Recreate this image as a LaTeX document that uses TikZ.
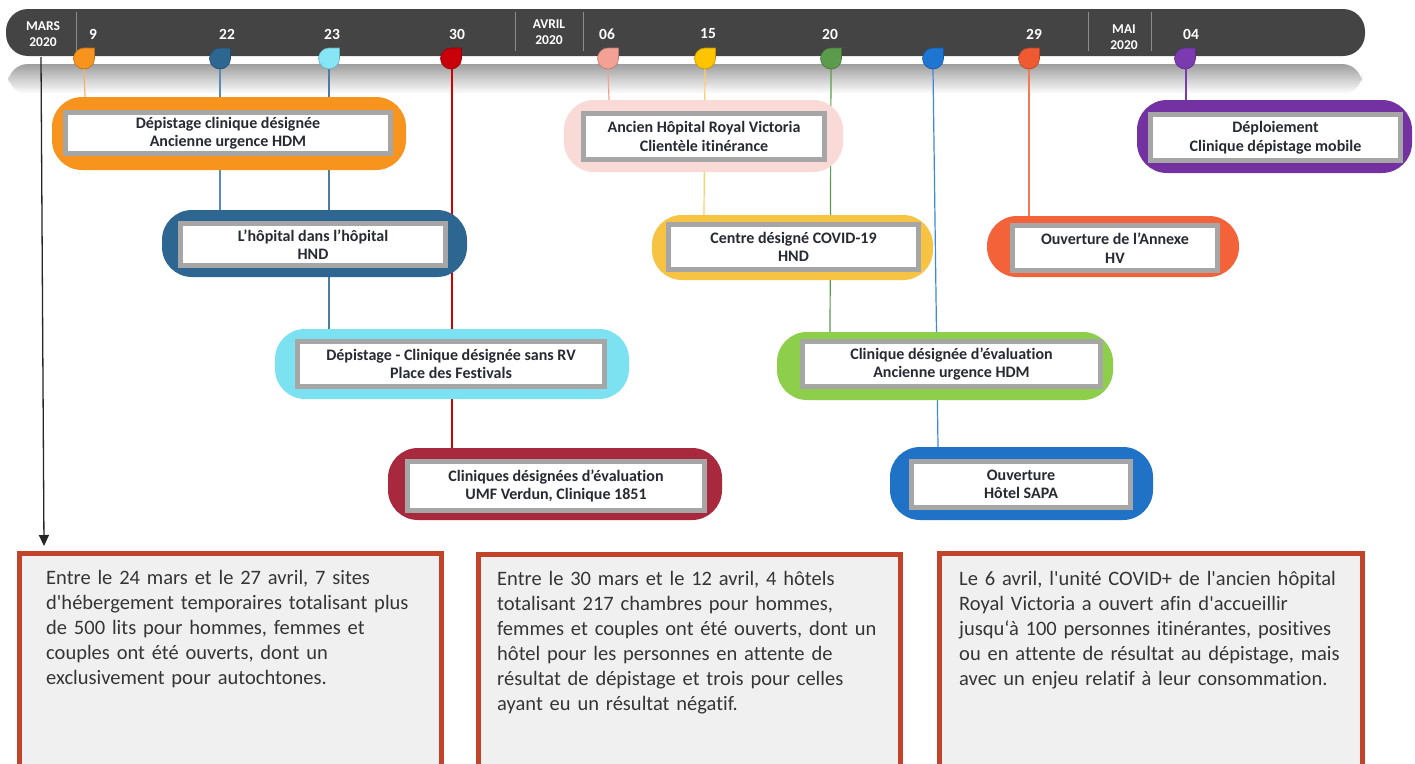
\documentclass[tikz,border=0pt]{standalone}
\usepackage{fontspec}
\setmainfont{Carlito}[Ligatures={TeXOff,CommonOff}]
\usetikzlibrary{arrows.meta}
\pgfdeclarelayer{back}
\pgfsetlayers{back,main}
\definecolor{barc}{HTML}{444444}
\definecolor{sepc}{HTML}{8C8C8C}
\definecolor{boxgrey}{HTML}{A6A6A6}
\definecolor{labeltext}{HTML}{262A33}
\definecolor{notetext}{HTML}{353535}
\definecolor{noteborder}{HTML}{C0432A}
\definecolor{notefill}{HTML}{F0F0F0}
\definecolor{cOrange}{HTML}{F7941E}
\definecolor{cOrangeS}{HTML}{F5B26B}
\definecolor{cDBlue}{HTML}{2D6690}
\definecolor{cDBlueS}{HTML}{5A8DB5}
\definecolor{cCyan}{HTML}{7CE2F2}
\definecolor{cCyanM}{HTML}{86E6F5}
\definecolor{cCyanS}{HTML}{4A7CA4}
\definecolor{cRed}{HTML}{A8293E}
\definecolor{cRedM}{HTML}{C8000A}
\definecolor{cRedS}{HTML}{D40000}
\definecolor{cPink}{HTML}{F9DAD6}
\definecolor{cPinkM}{HTML}{F4A195}
\definecolor{cYellow}{HTML}{F6C343}
\definecolor{cYellowM}{HTML}{FFC400}
\definecolor{cYellowS}{HTML}{FFCC66}
\definecolor{cGreen}{HTML}{8DCF4A}
\definecolor{cGreenM}{HTML}{5C9A4C}
\definecolor{cBlue}{HTML}{1F72C6}
\definecolor{cBlueM}{HTML}{1E76D2}
\definecolor{cBlueS}{HTML}{3A8AD8}
\definecolor{cOR}{HTML}{F4623A}
\definecolor{cORM}{HTML}{F05A32}
\definecolor{cORS}{HTML}{F47A52}
\definecolor{cPurple}{HTML}{7331A2}
\definecolor{cPurpleM}{HTML}{7B3AB0}
\newcommand\dropmark[3]{%
  \coordinate (#1) at (#2,69);
  \fill[#3, draw=#3!75!black, line width=0.6pt] (#2,48) arc[start angle=90,end angle=360,radius=10.5pt] -- (#2+10.5,48) -- cycle;
}
\begin{document}
\begin{tikzpicture}[x=1pt,y=-1pt,
  pill/.style={rounded corners=30pt, draw=none},
  inbox/.style={draw=boxgrey, line width=5pt, fill=white, align=center, inner sep=0pt,
    font=\bfseries\fontsize{16}{18.5}\selectfont, text=labeltext},
  day/.style={text=white, font=\bfseries\fontsize{15.5}{16}\selectfont, inner sep=0pt},
  month/.style={text=white, font=\bfseries\fontsize{13.5}{16}\selectfont, align=center, inner sep=0pt},
  stem/.style={line width=1.2pt},
  notebox/.style={draw=noteborder, fill=notefill, line width=5pt, inner sep=0pt},
  note/.style={anchor=base west, inner sep=0pt, text width=410pt, align=left,
    font=\fontsize{20.5}{25}\selectfont, text=notetext}
]
\useasboundingbox (0,0) rectangle (1415,763);
\begin{pgfonlayer}{back}
  \fill[white] (0,0) rectangle (1415,763);
  \shade[top color=black!38, bottom color=white, rounded corners=20pt] (8,94) -- (8,64) -- (1362,64) -- (1362,94) -- cycle;
\end{pgfonlayer}
% timeline bar
\fill[barc, rounded corners=22pt] (6,9) rectangle (1365,56);
\foreach \sx in {76,515,583,1088,1151} \draw[sepc, line width=0.8pt] (\sx,12) -- (\sx,51);
\node[month] (mMars) at (43,34) {MARS\\2020};
\node[month] (mAvril) at (549,32) {AVRIL\\2020};
\node[month] (mMai) at (1124,37) {MAI\\2020};
\node[day] (d9) at (93,34) {9};
\node[day] (d22) at (227,34) {22};
\node[day] (d23) at (332,34) {23};
\node[day] (d30) at (457,34) {30};
\node[day] (d06) at (607,34) {06};
\node[day] (d15) at (708,34) {15};
\node[day] (d20) at (830,34) {20};
\node[day] (d29) at (1034,34) {29};
\node[day] (d04) at (1191,34) {04};
% markers
\dropmark{m9}{84}{cOrange}
\dropmark{m22}{220}{cDBlue}
\dropmark{m23}{329}{cCyanM}
\dropmark{m30}{451}{cRedM}
\dropmark{m06}{608}{cPinkM}
\dropmark{m15}{705}{cYellowM}
\dropmark{m20}{831}{cGreenM}
\dropmark{mB}{933}{cBlueM}
\dropmark{m29}{1029}{cORM}
\dropmark{m04}{1185}{cPurpleM}
% arrow
\coordinate (aS) at (41,57);
\coordinate (aE) at (44,546);
\draw[black!85, line width=1.3pt, -{Triangle[length=11pt,width=10pt]}] (aS) -- (aE);
% event boxes
\node[pill, fill=cOrange, minimum width=354pt, minimum height=73pt] (p1) at (229,133.5) {};
\node[inbox, minimum width=325pt, minimum height=41pt] (b1) at (228,133) {Dépistage clinique désignée\\Ancienne urgence HDM};
\node[pill, fill=cDBlue, minimum width=305pt, minimum height=67pt] (p2) at (314.5,243.5) {};
\node[inbox, minimum width=265pt, minimum height=42pt] (b2) at (313,244.5) {L’hôpital dans l’hôpital\\HND};
\node[pill, fill=cCyan, minimum width=354pt, minimum height=70pt] (p3) at (452,364) {};
\node[inbox, minimum width=307pt, minimum height=45pt] (b3) at (451,364) {Dépistage - Clinique désignée sans RV\\Place des Festivals};
\node[pill, fill=cRed, minimum width=334pt, minimum height=72pt] (p4) at (555,484) {};
\node[inbox, minimum width=297pt, minimum height=49pt] (b4) at (556,486) {Cliniques désignées d’évaluation\\UMF Verdun, Clinique 1851};
\node[pill, fill=cPink, minimum width=279pt, minimum height=72pt] (p5) at (703.5,136) {};
\node[inbox, minimum width=241pt, minimum height=46pt] (b5) at (704,136.5) {Ancien Hôpital Royal Victoria\\Clientèle itinérance};
\node[pill, fill=cYellow, minimum width=281pt, minimum height=65pt] (p6) at (792.5,247.5) {};
\node[inbox, minimum width=250pt, minimum height=45pt] (b6) at (793.5,247) {Centre désigné COVID-19\\HND};
\node[pill, fill=cGreen, minimum width=336pt, minimum height=68pt] (p7) at (945,366) {};
\node[inbox, minimum width=298pt, minimum height=45pt] (b7) at (951.5,364) {Clinique désignée d’évaluation\\Ancienne urgence HDM};
\node[pill, fill=cBlue, minimum width=263pt, minimum height=73pt] (p8) at (1021.5,483.5) {};
\node[inbox, minimum width=219pt, minimum height=46pt] (b8) at (1021,484.5) {Ouverture\\Hôtel SAPA};
\node[pill, fill=cOR, minimum width=252pt, minimum height=61pt] (p9) at (1113,246.5) {};
\node[inbox, minimum width=205pt, minimum height=45pt] (b9) at (1115,248) {Ouverture de l’Annexe\\HV};
\node[pill, fill=cPurple, minimum width=275pt, minimum height=73pt] (p10) at (1274.5,136.5) {};
\node[inbox, minimum width=250pt, minimum height=46pt] (b10) at (1275.5,137.5) {Déploiement\\Clinique dépistage mobile};
% stems
\begin{pgfonlayer}{back}
  \draw[stem, cOrangeS] (m9) -- ([xshift=1pt]m9 |- p1.north);
  \draw[stem, cDBlueS] (m22) -- (m22 |- p2.north);
  \draw[stem, cCyanS] (m23) -- (m23 |- p3.north);
  \draw[stem, cRedS] ([xshift=1pt]m30) -- ([xshift=1pt]m30 |- p4.north);
  \draw[stem, cPinkM] (m06) -- ([xshift=1pt]m06 |- p5.north);
  \draw[stem, cYellowS] (m15) -- ([xshift=-1pt]m15 |- p6.north);
  \draw[stem, cGreenM] (m20) -- ([xshift=-1pt]m20 |- p7.north);
  \draw[stem, cBlueS] (mB) -- ([xshift=5pt]mB |- p8.north);
  \draw[stem, cORS] (m29) -- (m29 |- p9.north);
  \draw[stem, cPurpleM] ([xshift=1pt]m04) -- ([xshift=1pt]m04 |- p10.north);
\end{pgfonlayer}
% note boxes
\node[notebox, minimum width=422pt, minimum height=255pt] (nA) at (230.5,681) {};
\node[notebox, minimum width=422pt, minimum height=255pt] (nB) at (689.5,682) {};
\node[notebox, minimum width=423pt, minimum height=255pt] (nC) at (1151,681) {};
\node[note] (tA) at (46,584) {Entre le 24 mars et le 27 avril, 7 sites\\d'hébergement temporaires totalisant plus\\de 500 lits pour hommes, femmes et\\couples ont été ouverts, dont un\\exclusivement pour autochtones.};
\node[note] (tB) at (497,585) {Entre le 30 mars et le 12 avril, 4 hôtels\\totalisant 217 chambres pour hommes,\\femmes et couples ont été ouverts, dont un\\hôtel pour les personnes en attente de\\résultat de dépistage et trois pour celles\\ayant eu un résultat négatif.};
\node[note] (tC) at (959,585) {Le 6 avril, l'unité COVID+ de l'ancien hôpital\\Royal Victoria a ouvert afin d'accueillir\\jusqu‘à 100 personnes itinérantes, positives\\ou en attente de résultat au dépistage, mais\\avec un enjeu relatif à leur consommation.};
\end{tikzpicture}
\end{document}
